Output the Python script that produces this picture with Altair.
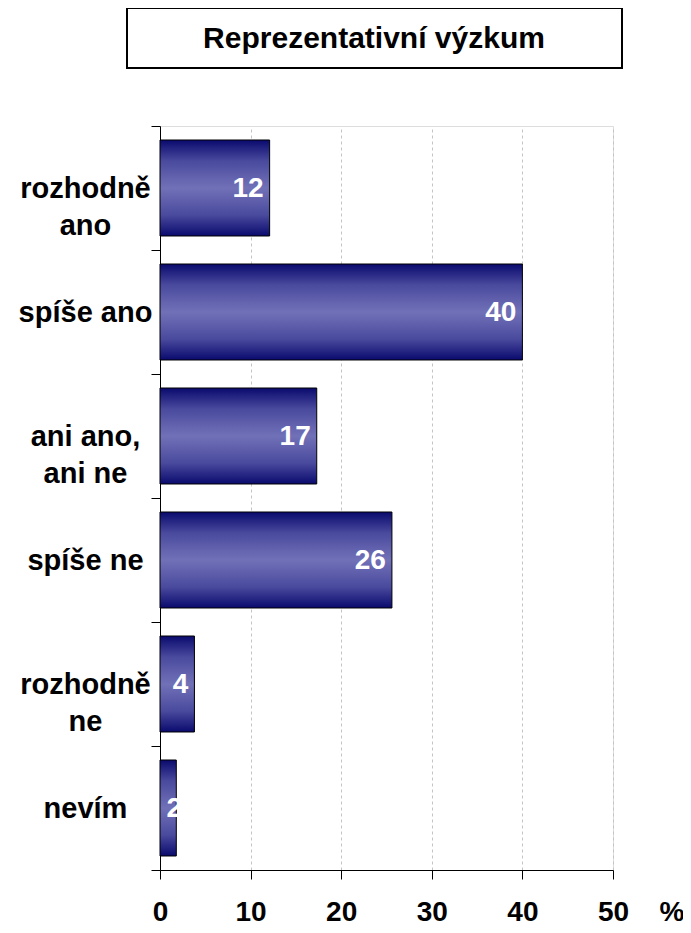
import altair as alt
import pandas as pd

categories = ["rozhodně\nano", "spíše ano", "ani ano,\nani ne", "spíše ne", "rozhodně\nne", "nevím"]
values = [12.1, 40.0, 17.3, 25.6, 3.8, 1.8]
labels = ["12", "40", "17", "26", "4", "2"]
title_text = "Reprezentativní výzkum"
x_ticks = [0, 10, 20, 30, 40, 50]

df = pd.DataFrame({"cat": categories, "value": values, "label": labels})
tdf = pd.DataFrame({"t": [title_text]})

FONT = "Liberation Sans, Arial, Helvetica, sans-serif"

grad = alt.Gradient(
    gradient="linear",
    x1=0, x2=0, y1=0, y2=1,
    stops=[
        alt.GradientStop(color="#0a0a6e", offset=0),
        alt.GradientStop(color="#4a4a9e", offset=0.22),
        alt.GradientStop(color="#7171b8", offset=0.5),
        alt.GradientStop(color="#4a4a9e", offset=0.78),
        alt.GradientStop(color="#0a0a6e", offset=1),
    ],
)

xscale = alt.Scale(domain=[0, 50], nice=False, zero=True)
yscale = alt.Scale(domain=categories, paddingInner=0, paddingOuter=0)

xaxis = alt.Axis(
    values=x_ticks, title="%", grid=True, gridDash=[3, 3], gridColor="#c4c4c4",
    domainColor="#000", tickColor="#000", tickSize=9,
    labelFont=FONT, labelFontSize=28, labelFontWeight="bold", labelColor="#000",
    labelBaseline="alphabetic", labelPadding=41, labelFlush=False,
    titleFont=FONT, titleFontSize=28, titleFontWeight="bold", titleColor="#000",
    titleX=499, titleY=50, titleAlign="left", titleBaseline="alphabetic", titleAngle=0,
)
yaxis = alt.Axis(
    title=None, tickBand="extent", grid=False,
    domainColor="#000", tickColor="#000", tickSize=9,
    labelFont=FONT, labelFontSize=29, labelFontWeight="bold", labelColor="#000",
    labelAlign="center", labelPadding=66, labelLineHeight=37,
    labelExpr="split(datum.label, '\\n')",
)

bars = alt.Chart(df).mark_bar(
    fill=grad, stroke="#000", strokeWidth=1, height=alt.RelativeBandSize(band=0.774)
).encode(
    x=alt.X("value:Q", scale=xscale, axis=xaxis),
    y=alt.Y("cat:N", scale=yscale, axis=yaxis, sort=categories),
)

text = alt.Chart(df).transform_calculate(
    pos="max(datum.value, 3.1)"
).mark_text(
    align="right", baseline="middle", dx=-6, dy=1,
    font=FONT, fontSize=28, fontWeight="bold", color="white",
).encode(
    x=alt.X("pos:Q", scale=xscale),
    y=alt.Y("cat:N", scale=yscale, sort=categories),
    text="label:N",
)

box = alt.Chart(tdf).mark_rect(fill="white", stroke="#000", strokeWidth=2).encode(
    x=alt.value(-33), x2=alt.value(462), y=alt.value(-118), y2=alt.value(-58),
)
title = alt.Chart(tdf).mark_text(
    align="center", baseline="middle", font=FONT, fontSize=30, fontWeight="bold", color="#000",
).encode(
    x=alt.value(214), y=alt.value(-87), text="t:N",
)

chart = alt.layer(box, title, bars, text).properties(
    width=453, height=744,
    padding={"left": 152, "top": 118, "right": 70, "bottom": 57},
    autosize=alt.AutoSizeParams(type="none"),
).configure_view(stroke="#333", strokeWidth=1).configure(background="white")

chart.save("out.html", embed_options={"renderer": "svg", "actions": False})
